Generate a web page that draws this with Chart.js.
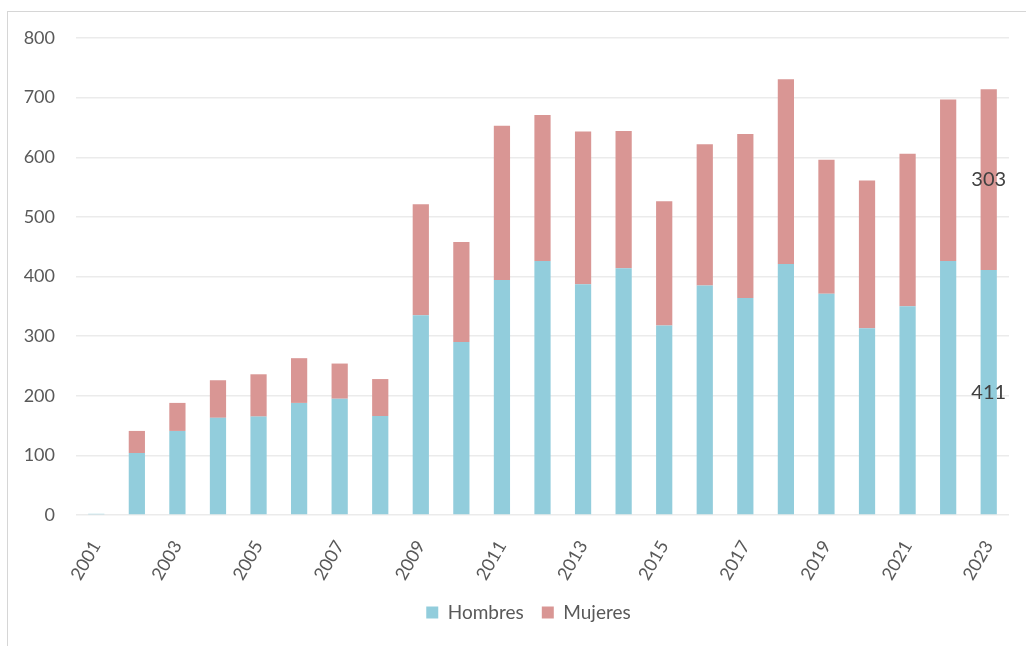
<!DOCTYPE html>
<html>
<head>
<meta charset="utf-8">
<script src="https://cdn.jsdelivr.net/npm/chart.js@4"></script>
<style>
  html, body { margin: 0; padding: 0; background: #ffffff; }
  #wrap { position: relative; width: 1026px; height: 646px; overflow: hidden; }
  #frame { position: absolute; left: 7px; top: 11px; width: 1030px; height: 640px; border: 1.5px solid #d6d6d6; box-sizing: border-box; }
  canvas { position: absolute; left: 0; top: 0; }
</style>
</head>
<body>
<div id="wrap">
  <div id="frame"></div>
  <canvas id="c" width="1026" height="646"></canvas>
</div>
<script>
const years = ['2001','2002','2003','2004','2005','2006','2007','2008','2009','2010','2011','2012','2013','2014','2015','2016','2017','2018','2019','2020','2021','2022','2023'];
const hombres = [2,104,141,163,165,188,195,166,335,290,394,426,387,414,318,385,364,421,371,313,350,426,411];
const mujeres = [0,37,47,63,71,75,59,62,186,168,259,245,256,230,208,237,275,310,225,248,256,271,303];
const yTicks = [0,100,200,300,400,500,600,700,800];

const FONT = 'Lato, "Open Sans", sans-serif';
const GRAY = '#595959';

const lastLabels = {
  id: 'lastLabels',
  afterDatasetsDraw(chart) {
    const ctx = chart.ctx;
    ctx.save();
    ctx.font = '20px ' + FONT;
    ctx.fillStyle = '#404040';
    ctx.textAlign = 'center';
    ctx.textBaseline = 'middle';
    chart.data.datasets.forEach((ds, i) => {
      const meta = chart.getDatasetMeta(i);
      const idx = ds.data.length - 1;
      const el = meta.data[idx];
      if (!el) return;
      const yc = (el.y + el.base) / 2;
      ctx.fillText(String(ds.data[idx]), el.x, yc);
    });
    ctx.restore();
  }
};

const shiftLegend = {
  id: 'shiftLegend',
  afterLayout(chart) {
    if (chart.legend) { chart.legend.left += 24; chart.legend.right += 24; }
  }
};

new Chart(document.getElementById('c'), {
  type: 'bar',
  data: {
    labels: years,
    datasets: [
      { label: 'Hombres', data: hombres, backgroundColor: '#92CDDC', barPercentage: 0.4, categoryPercentage: 1.0 },
      { label: 'Mujeres', data: mujeres, backgroundColor: '#D99694', barPercentage: 0.4, categoryPercentage: 1.0 }
    ]
  },
  options: {
    responsive: false,
    animation: false,
    devicePixelRatio: 1,
    layout: { padding: { left: 0, right: 17, top: 38, bottom: 14 } },
    plugins: {
      legend: {
        position: 'bottom',
        labels: { boxWidth: 12, boxHeight: 12, padding: 18, color: GRAY, font: { family: FONT, size: 19 } }
      },
      tooltip: { enabled: false }
    },
    scales: {
      x: {
        stacked: true,
        grid: { display: false },
        border: { display: false },
        ticks: {
          autoSkip: false,
          minRotation: 60,
          maxRotation: 60,
          padding: 14,
          color: GRAY,
          font: { family: FONT, size: 18 },
          callback: function(v, i) { return i % 2 === 0 ? years[i] : ''; }
        },
        afterFit(scale) { scale.height = 70; }
      },
      y: {
        stacked: true,
        min: 0,
        max: 800,
        afterBuildTicks(scale) { scale.ticks = yTicks.map(v => ({ value: v })); },
        grid: { color: '#ebebeb', lineWidth: 1.5, drawTicks: false },
        border: { display: false },
        ticks: { padding: 21, color: GRAY, font: { family: FONT, size: 18 } },
        afterFit(scale) { scale.width = 76; }
      }
    }
  },
  plugins: [lastLabels, shiftLegend]
});
</script>
</body>
</html>
